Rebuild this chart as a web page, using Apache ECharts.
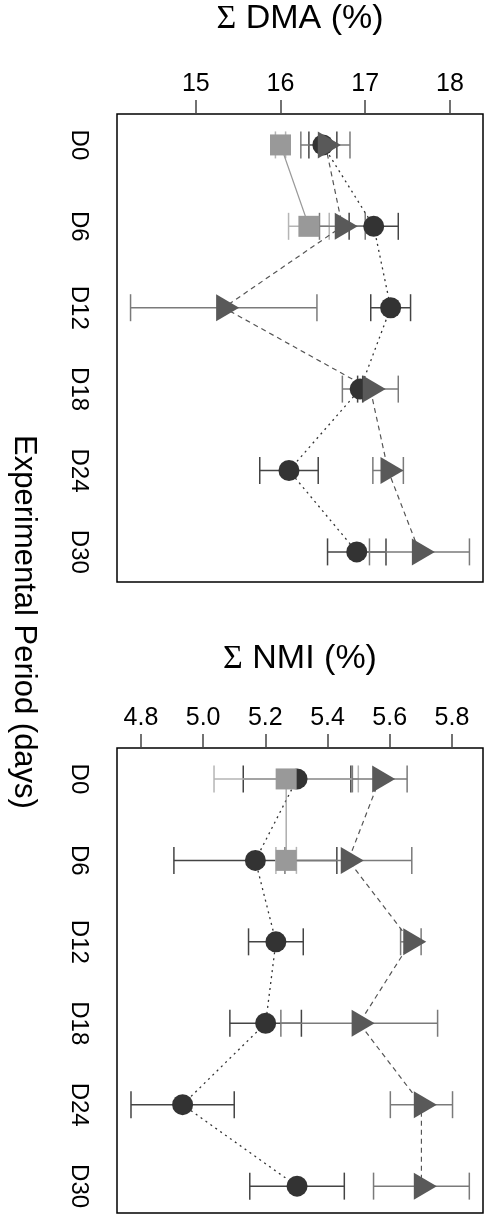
<!DOCTYPE html>
<html>
<head>
    <meta charset="utf-8">
    <title>ECharts</title>
    <script src="https://cdn.jsdelivr.net/npm/echarts@6/dist/echarts.min.js"></script>
    <style>
        html, body { margin: 0; padding: 0; background: #fff; }
    </style>
</head>
<body>
<div id="main" style="width: 487px;height:1214px;"></div>
<script type="text/javascript">
    // categories (experimental period)
    var categories = ['D0', 'D6', 'D12', 'D18', 'D24', 'D30'];

    // Σ DMA (%)
    var dmaTicks = [15, 16, 17, 18];
    var dmaCircle = [16.50, 17.10, 17.30, 16.94, 16.10, 16.90];
    var dmaCircleErr = [0.165, 0.29, 0.235, 0.03, 0.345, 0.345];
    var dmaTriangle = [16.53, 16.73, 15.33, 17.06, 17.27, 17.64];
    var dmaTriangleErr = [0.29, 0.27, 1.10, 0.33, 0.18, 0.59];
    var dmaSquare = [16.00, 16.335];
    var dmaSquareErr = [0.06, 0.24];

    // Σ NMI (%)
    var nmiTicks = [4.8, 5.0, 5.2, 5.4, 5.6, 5.8];
    var nmiCircle = [5.302, 5.168, 5.234, 5.201, 4.934, 5.302];
    var nmiCircleErr = [0.173, 0.262, 0.088, 0.115, 0.166, 0.152];
    var nmiTriangle = [5.568, 5.467, 5.668, 5.502, 5.702, 5.702];
    var nmiTriangleErr = [0.088, 0.204, 0.033, 0.252, 0.100, 0.154];
    var nmiSquare = [5.267, 5.267];
    var nmiSquareErr = [0.232, 0.033];

    var myChart = echarts.init(document.getElementById('main'));

    function pts(vals) {
        return vals.map(function (v, i) { return [v, i]; });
    }

    // horizontal error bars with caps
    function errBars(idx, vals, errs, color) {
        return {
            type: 'custom',
            xAxisIndex: idx,
            yAxisIndex: idx,
            silent: true,
            encode: {x: [0, 1], y: 2},
            data: vals.map(function (v, i) { return [v - errs[i], v + errs[i], i]; }),
            renderItem: function (params, api) {
                var lo = api.coord([api.value(0), api.value(2)]);
                var hi = api.coord([api.value(1), api.value(2)]);
                var h = 13.5;
                var st = {stroke: color, lineWidth: 1.5, fill: null};
                return {
                    type: 'group',
                    children: [
                        {type: 'line', shape: {x1: lo[0], y1: lo[1], x2: hi[0], y2: hi[1]}, style: st},
                        {type: 'line', shape: {x1: lo[0], y1: lo[1] - h, x2: lo[0], y2: lo[1] + h}, style: st},
                        {type: 'line', shape: {x1: hi[0], y1: hi[1] - h, x2: hi[0], y2: hi[1] + h}, style: st}
                    ]
                };
            }
        };
    }

    function circleLine(idx, vals) {
        return {
            type: 'line', xAxisIndex: idx, yAxisIndex: idx, data: pts(vals),
            symbol: 'circle', symbolSize: 21, showSymbol: true,
            itemStyle: {color: '#333333'},
            lineStyle: {color: '#333333', width: 1.3, type: [2, 4]}
        };
    }

    function squareLine(idx, vals) {
        return {
            type: 'line', xAxisIndex: idx, yAxisIndex: idx, data: pts(vals),
            symbol: 'rect', symbolSize: 21, showSymbol: true,
            itemStyle: {color: '#999999'},
            lineStyle: {color: '#999999', width: 1.2, type: 'solid'}
        };
    }

    function triLine(idx, vals) {
        return {
            type: 'line', xAxisIndex: idx, yAxisIndex: idx, data: pts(vals),
            symbol: 'triangle', symbolSize: [27, 23], symbolRotate: -90, symbolOffset: [3.9, 0],
            showSymbol: true,
            itemStyle: {color: '#595959'},
            lineStyle: {color: '#555555', width: 1.2, type: [5, 4]}
        };
    }

    var labelFont = {fontFamily: 'Liberation Sans', fontSize: 25, color: '#000'};

    function xAxisDef(idx, min, max, ticks, digits) {
        return {
            type: 'value', gridIndex: idx, position: 'top', min: min, max: max,
            axisLine: {show: false, onZero: false},
            splitLine: {show: false},
            axisTick: {show: true, inside: false, length: 14, customValues: ticks,
                lineStyle: {color: '#444', width: 1.5}},
            axisLabel: Object.assign({customValues: ticks, margin: 17,
                formatter: function (v) { return v.toFixed(digits); }}, labelFont)
        };
    }

    function yAxisDef(idx, min, max) {
        return {
            type: 'value', gridIndex: idx, inverse: true, min: min, max: max,
            axisLine: {show: false, onZero: false},
            splitLine: {show: false},
            axisTick: {show: false},
            axisLabel: {
                customValues: [0, 1, 2, 3, 4, 5], rotate: -90, margin: 38,
                align: 'center', verticalAlign: 'middle',
                fontFamily: 'Liberation Sans', fontSize: 24, color: '#000',
                formatter: function (v) { return categories[v]; }
            }
        };
    }

    var option = {
        animation: false,
        grid: [
            {left: 117, top: 114, width: 366, height: 468, show: true, borderColor: '#000', borderWidth: 1.5},
            {left: 117, top: 748, width: 366, height: 465, show: true, borderColor: '#000', borderWidth: 1.5}
        ],
        xAxis: [
            xAxisDef(0, 14.07, 18.39, dmaTicks, 0),
            xAxisDef(1, 4.723, 5.900, nmiTicks, 1)
        ],
        yAxis: [
            yAxisDef(0, -0.38, 5.37),
            yAxisDef(1, -0.38, 5.33)
        ],
        graphic: [
            {type: 'text', x: 300, y: 19, style: {text: '{s|Σ} DMA (%)', fontFamily: 'Liberation Sans', fontSize: 34,
                fill: '#000', align: 'center', verticalAlign: 'middle',
                rich: {s: {fontFamily: 'Liberation Serif', fontSize: 34}}}},
            {type: 'text', x: 300, y: 659, style: {text: '{s|Σ} NMI (%)', fontFamily: 'Liberation Sans', fontSize: 34,
                fill: '#000', align: 'center', verticalAlign: 'middle',
                rich: {s: {fontFamily: 'Liberation Serif', fontSize: 34}}}},
            {type: 'text', x: 24, y: 622, rotation: -Math.PI / 2,
                style: {text: 'Experimental Period (days)', fontFamily: 'Liberation Sans', fontSize: 31,
                    fill: '#000', align: 'center', verticalAlign: 'middle'}}
        ],
        series: [
            errBars(0, dmaCircle, dmaCircleErr, '#444444'),
            circleLine(0, dmaCircle),
            errBars(0, dmaSquare, dmaSquareErr, '#b5b5b5'),
            squareLine(0, dmaSquare),
            errBars(0, dmaTriangle, dmaTriangleErr, '#7a7a7a'),
            triLine(0, dmaTriangle),

            errBars(1, nmiCircle, nmiCircleErr, '#444444'),
            circleLine(1, nmiCircle),
            errBars(1, nmiSquare, nmiSquareErr, '#b5b5b5'),
            squareLine(1, nmiSquare),
            errBars(1, nmiTriangle, nmiTriangleErr, '#7a7a7a'),
            triLine(1, nmiTriangle)
        ]
    };

    myChart.setOption(option);
</script>
</body>
</html>
